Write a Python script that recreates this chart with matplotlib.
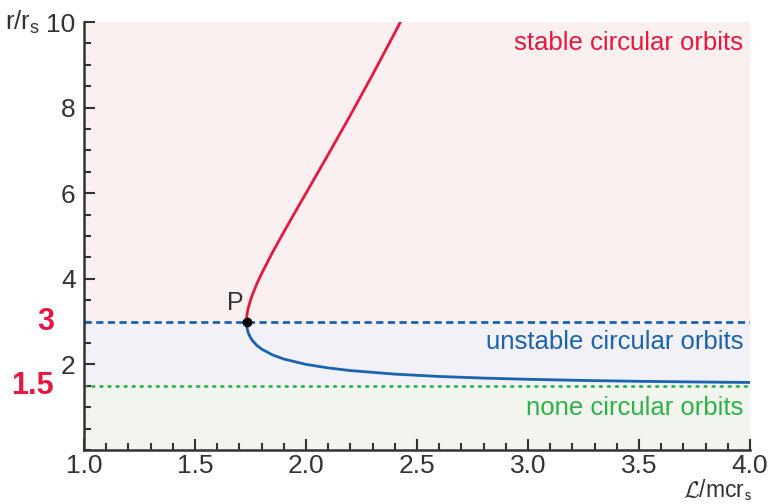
import matplotlib
matplotlib.use("Agg")
import matplotlib.pyplot as plt
from matplotlib.ticker import MultipleLocator, FixedLocator

# Data
L_stable = [1.732, 1.7325, 1.734, 1.737, 1.74, 1.75, 1.76, 1.78, 1.80, 1.85, 1.90,
            1.95, 2.0, 2.1, 2.2, 2.3, 2.4, 2.43]
r_stable = [3.0, 3.07, 3.149, 3.245, 3.317, 3.50, 3.647, 3.899, 4.122, 4.625, 5.094,
            5.55, 6.0, 6.904, 7.824, 8.770, 9.747, 10.047]
L_unstable = [1.732, 1.7325, 1.734, 1.737, 1.74, 1.75, 1.76, 1.78, 1.80, 1.85, 1.90,
              2.0, 2.1, 2.2, 2.4, 2.6, 2.8, 3.0, 3.25, 3.5, 3.75, 4.0]
r_unstable = [3.0, 2.933, 2.864, 2.790, 2.738, 2.625, 2.548, 2.438, 2.358, 2.220, 2.126,
              2.0, 1.918, 1.856, 1.773, 1.718, 1.680, 1.652, 1.625, 1.605, 1.590, 1.578]
r_photon = 3.0
r_none = 1.5
P_point = (1.732, 3.0)
y_ticks = [2, 4, 6, 8, 10]
x_ticks = [1.0, 1.5, 2.0, 2.5, 3.0, 3.5, 4.0]
region_labels = ["stable circular orbits", "unstable circular orbits", "none circular orbits"]

RED = "#e8173f"
BLUE = "#1a63b0"
GREEN = "#2db34a"
TXT = "#333333"

plt.rcParams['font.family'] = ['Liberation Sans', 'DejaVu Sans']
plt.rcParams['mathtext.fontset'] = 'custom'
plt.rcParams['mathtext.rm'] = 'Liberation Sans'
plt.rcParams['mathtext.sf'] = 'Liberation Sans'

fig = plt.figure(figsize=(7.7, 5.04), dpi=100)
ax = fig.add_axes([84/770, 54/504, 666/770, 428/504])
ax.set_xlim(1.0, 4.0)
ax.set_ylim(0, 10)

# background regions
ax.axhspan(r_photon, 10, color="#fbf0f0", zorder=0, lw=0)
ax.axhspan(r_none, r_photon, color="#f2f1f8", zorder=0, lw=0)
ax.axhspan(0, r_none, color="#f1f5ee", zorder=0, lw=0)

ax.axhline(r_photon, color=BLUE, lw=2.0, ls=(0, (2.6, 1.6)), zorder=2)
ax.axhline(r_none, color=GREEN, lw=2.0, ls=(0, (0.6, 2.3)), dash_capstyle='round', zorder=2)

ax.plot(L_stable, r_stable, color=RED, lw=2.0, zorder=3, clip_on=True)
ax.plot(L_unstable, r_unstable, color=BLUE, lw=2.0, zorder=3)
ax.plot([P_point[0]], [P_point[1]], 'o', color='black', ms=6, zorder=4)
ax.text(P_point[0] - 0.05, P_point[1] + 0.15, "P", fontsize=18, color=TXT,
        ha='center', va='bottom')

ax.text(3.97, 9.5, region_labels[0], color=RED, fontsize=18.5, ha='right', va='center')
ax.text(3.97, 2.52, region_labels[1], color=BLUE, fontsize=18.5, ha='right', va='center')
ax.text(3.97, 0.98, region_labels[2], color=GREEN, fontsize=18.5, ha='right', va='center')

for s in ['top', 'right']:
    ax.spines[s].set_visible(False)
for s in ['left', 'bottom']:
    ax.spines[s].set_color(TXT)
    ax.spines[s].set_linewidth(1.8)

ax.xaxis.set_major_locator(FixedLocator(x_ticks))
ax.xaxis.set_minor_locator(MultipleLocator(0.1))
ax.yaxis.set_major_locator(FixedLocator(y_ticks))
ax.yaxis.set_minor_locator(MultipleLocator(0.5))
ax.set_xticklabels([f"{v:.1f}" for v in x_ticks])
ax.set_yticklabels([str(v) for v in y_ticks])
ax.tick_params(which='both', direction='in', colors=TXT, labelsize=19, width=1.5)
ax.tick_params(which='major', length=8, pad=6)
ax.tick_params(axis='x', which='major', pad=3)
ax.tick_params(which='minor', length=5)

# special red labels on the left
ax.text(-0.045, r_photon, "3", transform=ax.get_yaxis_transform(), color=RED,
        fontsize=22, fontweight='bold', ha='right', va='center')
ax.text(-0.045, r_none, "1.5", transform=ax.get_yaxis_transform(), color=RED,
        fontsize=22, fontweight='bold', ha='right', va='center')

fig.text(5/770, 1 - 22/504, r"r/r$_\mathrm{s}$", fontsize=18.5, color=TXT, ha='left', va='center')
fig.text(752/770, 1 - 503/504, r"$\mathcal{L}$/mcr$_\mathsf{s}$", fontsize=16.5, color=TXT,
         ha='right', va='bottom', math_fontfamily='cm')

fig.savefig("out.png", dpi=100)
